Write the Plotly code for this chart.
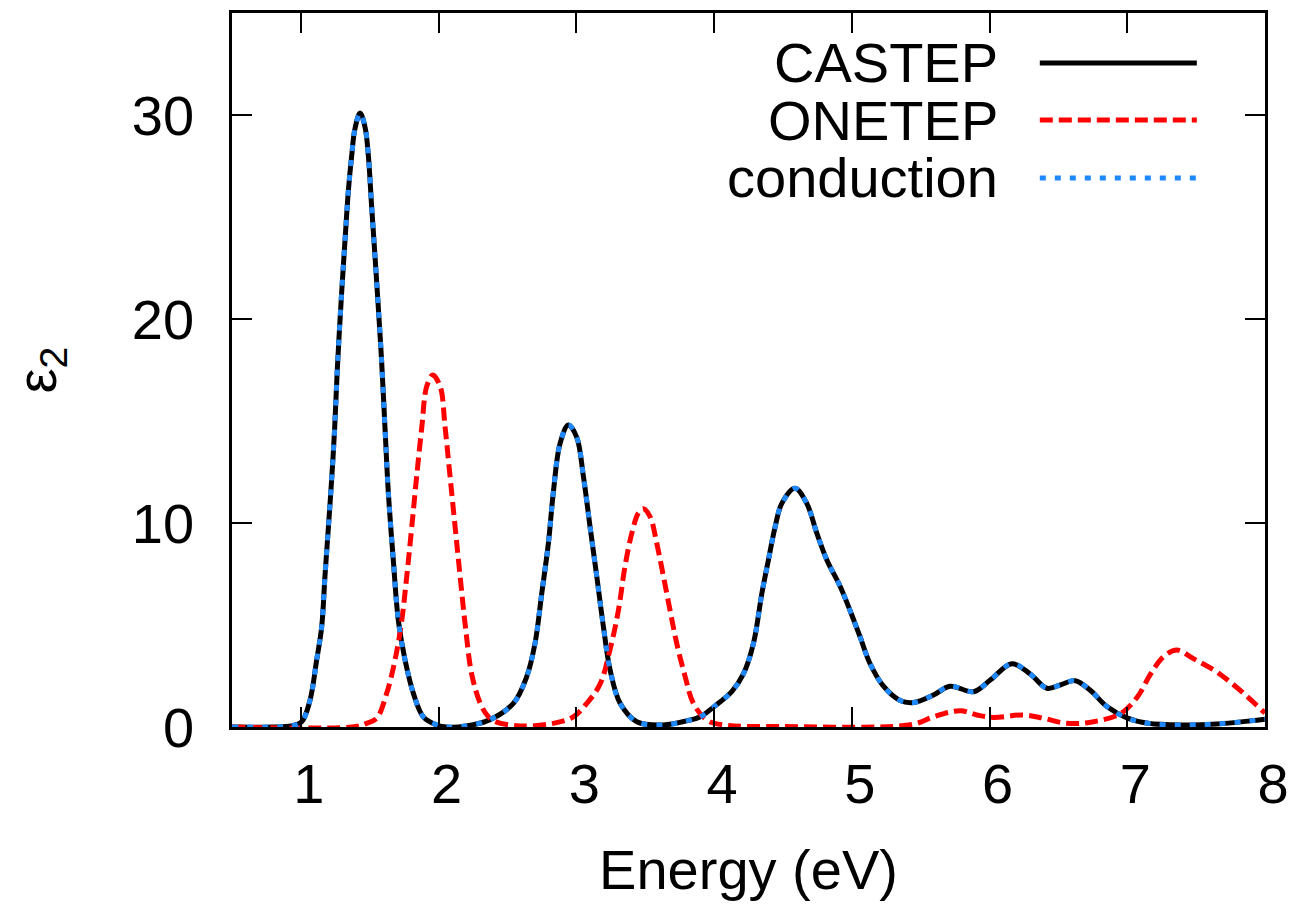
import plotly.graph_objects as go

# Energy grid (eV) and imaginary dielectric function for each calculation
castep_energy = [0.50, 0.80, 0.93, 1.006, 1.066, 1.115, 1.151, 1.175, 1.20, 1.225, 1.245, 1.265,
                 1.297, 1.321, 1.345, 1.369, 1.392, 1.43, 1.466, 1.490, 1.514, 1.539, 1.562,
                 1.585, 1.612, 1.635, 1.671, 1.708, 1.756, 1.817, 1.889, 1.987, 2.06, 2.20,
                 2.37, 2.543, 2.64, 2.70, 2.749, 2.797, 2.833, 2.882, 2.942, 3.003, 3.051,
                 3.100, 3.148, 3.197, 3.245, 3.318, 3.439, 3.632, 3.80, 3.90, 4.00, 4.13,
                 4.213, 4.286, 4.347, 4.395, 4.443, 4.492, 4.588, 4.673, 4.746, 4.818, 4.915,
                 4.988, 5.061, 5.133, 5.230, 5.351, 5.448, 5.593, 5.714, 5.884, 6.005, 6.162,
                 6.295, 6.416, 6.513, 6.622, 6.731, 6.852, 6.997, 7.15, 7.41, 7.65, 7.893, 8.0]
castep_eps2 = [0.0, 0.0, 0.05, 0.26, 1.3, 3.3, 4.9, 7.4, 9.8, 12.3, 14.6, 17.6,
               21.4, 23.9, 26.3, 28.0, 29.3, 30.1, 29.4, 28.0, 25.5, 23.0, 20.6,
               18.1, 14.5, 11.5, 8.2, 5.2, 3.3, 1.65, 0.5, 0.1, 0.0, 0.05,
               0.35, 1.16, 2.47, 4.1, 6.55, 9.0, 11.5, 13.9, 14.8, 14.2, 12.3,
               9.8, 7.4, 4.9, 2.8, 1.16, 0.26, 0.1, 0.3, 0.5, 1.0, 1.75,
               2.6, 4.1, 6.55, 8.2, 9.8, 10.96, 11.7, 10.96, 9.5, 8.2, 6.9,
               5.7, 4.4, 3.1, 2.0, 1.3, 1.2, 1.57, 2.0, 1.73, 2.3, 3.1,
               2.6, 1.9, 2.06, 2.27, 1.8, 1.0, 0.45, 0.18, 0.1, 0.15, 0.3, 0.38]

onetep_energy = [0.50, 1.40, 1.478, 1.551, 1.623, 1.684, 1.732, 1.769, 1.805, 1.841, 1.878,
                 1.914, 1.957, 2.011, 2.047, 2.083, 2.120, 2.156, 2.195, 2.24, 2.30, 2.35,
                 2.40, 2.59, 2.833, 2.978, 3.076, 3.172, 3.245, 3.305, 3.354, 3.403, 3.451,
                 3.487, 3.536, 3.584, 3.632, 3.681, 3.729, 3.790, 3.850, 3.947, 4.068, 4.5,
                 5.3, 5.472, 5.593, 5.787, 5.908, 6.029, 6.247, 6.392, 6.561, 6.755, 6.955,
                 7.076, 7.17, 7.264, 7.36, 7.48, 7.627, 7.748, 7.869, 7.99, 8.0]
onetep_eps2 = [0.0, 0.02, 0.18, 0.43, 1.65, 3.3, 5.2, 7.4, 9.8, 12.3, 14.7,
               16.7, 17.25, 16.7, 14.7, 12.3, 9.8, 7.4, 4.9, 2.6, 1.2, 0.6,
               0.3, 0.05, 0.18, 0.5, 1.16, 2.1, 3.8, 5.7, 7.9, 9.5, 10.5,
               10.7, 10.3, 9.0, 7.4, 5.7, 4.1, 2.47, 1.16, 0.34, 0.1, 0.02,
               0.03, 0.18, 0.5, 0.8, 0.59, 0.47, 0.59, 0.43, 0.18, 0.26, 0.67,
               1.5, 2.6, 3.45, 3.77, 3.35, 2.8, 2.2, 1.5, 0.75, 0.7]

# The conduction-band-only spectrum coincides with the CASTEP one
conduction_energy = list(castep_energy)
conduction_eps2 = list(castep_eps2)

x_ticks = [1, 2, 3, 4, 5, 6, 7, 8]
y_ticks = [0, 10, 20, 30]

FONT = "Liberation Sans"
FS = 56

series = [
    ("CASTEP", castep_energy, castep_eps2, "#000000", "solid"),
    ("ONETEP", onetep_energy, onetep_eps2, "#ff0000", "13px,6px"),
    ("conduction", conduction_energy, conduction_eps2, "#1e88ff", "6px,9px"),
]

fig = go.Figure()
for name, xs, ys, color, dash in series:
    fig.add_trace(go.Scatter(
        x=xs, y=ys, name=name, mode="lines",
        line=dict(color=color, width=5, dash=dash, shape="spline", smoothing=1.0),
        showlegend=False,
    ))

# Key in the top-right corner: right-aligned label followed by a line sample
key_rows_y = [0.9300, 0.8500, 0.7690]
for (name, _, _, color, dash), ky in zip(series, key_rows_y):
    fig.add_annotation(
        x=0.7435, y=ky, xref="paper", yref="paper", text=name, showarrow=False,
        xanchor="right", yanchor="middle", font=dict(family=FONT, size=FS, color="black"),
    )
    fig.add_shape(
        type="line", xref="paper", yref="paper", x0=0.782, x1=0.934, y0=ky, y1=ky,
        line=dict(color=color, width=5, dash=dash),
    )

axis_common = dict(
    showline=True, linecolor="black", linewidth=2.5, mirror="allticks",
    ticks="inside", ticklen=20, tickwidth=2, tickcolor="black",
    showgrid=False, zeroline=False, automargin=False,
    tickfont=dict(family=FONT, size=FS, color="black"),
)

fig.update_layout(
    width=1291, height=904,
    margin=dict(l=232, r=26, t=13, b=177),
    paper_bgcolor="white", plot_bgcolor="white",
    xaxis=dict(range=[0.5, 8], tickvals=x_ticks, ticklabelstandoff=6, ticklabelshift=8,
               title=dict(text="Energy (eV)", font=dict(family=FONT, size=FS, color="black"),
                          standoff=36),
               **axis_common),
    yaxis=dict(range=[0, 35], tickvals=y_ticks, ticklabelstandoff=24,
               title=dict(text="ε<sub>2</sub>", font=dict(family=FONT, size=FS, color="black"),
                          standoff=58),
               **axis_common),
)

fig.write_html("out.html")
